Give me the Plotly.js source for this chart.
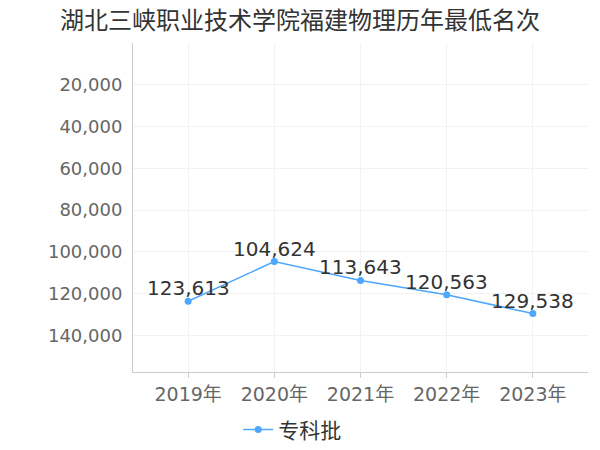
<!DOCTYPE html>
<html><head><meta charset="utf-8">
<script src="https://cdn.plot.ly/plotly-3.0.1.min.js"></script>
<style>html,body{margin:0;padding:0;background:#fff}#c{width:600px;height:450px}</style>
</head><body><div id="c"></div>
<script>
const years = ["2019年","2020年","2021年","2022年","2023年"];
const ranks = [123613, 104624, 113643, 120563, 129538];
const labels = ["123,613","104,624","113,643","120,563","129,538"];
const seriesName = "专科批";
const tickVals = [20000,40000,60000,80000,100000,120000,140000];
const tickText = ["20,000","40,000","60,000","80,000","100,000","120,000","140,000"];
const font = '"DejaVu Sans","Noto Sans CJK SC",sans-serif';
const anns = years.map((x,i)=>({x:x,y:ranks[i],text:labels[i],showarrow:false,xanchor:'center',yanchor:'middle',yshift:13,
  font:{size:20,color:'#333',family:font}}));
Plotly.newPlot('c',[{
  x: years, y: ranks, name: seriesName,
  type:'scatter', mode:'lines+markers',
  line:{color:'#4da6ff',width:1.5}, marker:{color:'#4da6ff',size:7},
  cliponaxis:false
}],{
  width:600,height:450,
  margin:{l:133,r:12,t:43,b:78},
  paper_bgcolor:'#fff',plot_bgcolor:'#fff',
  font:{family:font},
  title:{text:'湖北三峡职业技术学院福建物理历年最低名次',x:0.5,xanchor:'center',yref:'container',y:0.955,yanchor:'middle',font:{size:24,color:'#333',family:font}},
  xaxis:{type:'category',range:[-0.64,4.64],showgrid:true,gridcolor:'#f2f2f2',showline:true,linecolor:'#ccc',linewidth:1,
    ticks:'outside',ticklen:5,tickcolor:'#ccc',tickfont:{size:19,color:'#666',family:font},zeroline:false},
  yaxis:{range:[157500,0],tickvals:tickVals,ticktext:tickText,showgrid:true,gridcolor:'#f2f2f2',showline:true,linecolor:'#ccc',linewidth:1,
    ticks:'',ticklabelstandoff:6,tickfont:{size:18,color:'#666',family:font},zeroline:false},
  annotations:anns,
  showlegend:true,
  legend:{orientation:'h',itemwidth:30,xref:'container',x:0.487,xanchor:'center',yref:'container',y:0.045,yanchor:'middle',font:{size:21,color:'#333',family:font}}
},{displayModeBar:false,staticPlot:true});
</script></body></html>
